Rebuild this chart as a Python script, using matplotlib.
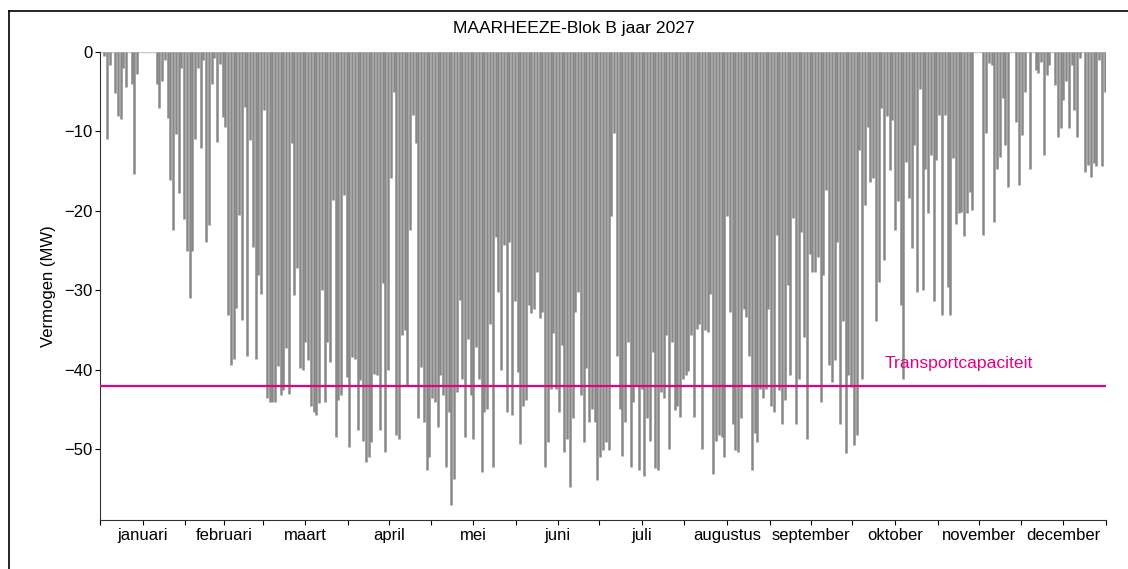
"""Dagelijkse piek van het teruggeleverde vermogen, MAARHEEZE-Blok B 2027."""

import numpy as np
import matplotlib
matplotlib.use("Agg")
from matplotlib import pyplot as plt
from matplotlib.lines import Line2D

plt.rcParams['font.family'] = ['Liberation Sans', 'DejaVu Sans']

# --- Data: laagste waarde per dag (MW) ---
jan = [0, -0.5, -11.0, -1.6, 0, -5.2, -8.1, -8.4, -2.0, -4.4, 0, -4.0, -15.4, -2.8,
       0, 0, 0, 0, 0, 0, -4.0, -7.0, -3.7, -1.0, -8.3, -16.1, -22.4, -10.3, -17.7,
       -2.0, -21.0]
feb = [-25.0, -31.0, -25.0, -10.9, -2.0, -12.1, -1.0, -23.9, -21.8, -4.0, -0.8,
       -11.3, -1.5, -8.2, -9.4, -33.1, -39.4, -38.6, -32.2, -20.5, -33.7, -6.9,
       -38.2, -11.1, -24.5, -38.6, -28.1, -30.4]
mar = [-7.3, -43.5, -44.0, -44.0, -44.0, -39.5, -43.2, -42.5, -37.3, -43.1, -11.5,
       -30.6, -27.2, -39.8, -40.0, -36.5, -38.8, -44.5, -45.3, -45.7, -44.2, -30.0,
       -44.0, -36.5, -39.0, -18.6, -48.4, -43.8, -43.2, -18.0, -40.9]
apr = [-49.7, -38.4, -38.6, -47.6, -41.3, -48.9, -51.6, -51.0, -49.1, -40.5, -40.7,
       -47.6, -29.1, -50.3, -40.0, -15.9, -5.0, -48.2, -48.7, -35.6, -35.0, -41.9,
       -22.4, -7.9, -11.5, -46.1, -39.6, -46.6, -52.6, -51.0]
may = [-43.6, -44.0, -47.2, -40.7, -43.2, -52.2, -45.3, -57.0, -53.7, -42.8, -31.2,
       -41.1, -48.4, -36.1, -43.2, -48.7, -37.1, -41.1, -52.9, -45.3, -44.9, -34.2,
       -52.2, -23.3, -30.2, -40.0, -24.3, -45.3, -23.9, -45.7, -31.4]
jun = [-40.3, -49.3, -44.5, -43.8, -31.9, -32.9, -32.3, -27.7, -33.5, -32.7, -52.2,
       -49.1, -42.4, -35.4, -42.4, -45.3, -36.9, -50.3, -48.7, -54.7, -46.1, -32.7,
       -30.2, -43.2, -49.1, -39.8, -46.6, -44.9, -46.6, -53.9]
jul = [-51.0, -50.1, -49.1, -50.1, -20.7, -10.2, -38.2, -44.9, -50.8, -46.6, -36.5,
       -52.2, -44.0, -41.9, -52.6, -42.4, -53.3, -46.1, -48.9, -37.7, -52.4, -52.6,
       -42.8, -43.6, -35.6, -50.0, -36.5, -45.1, -44.5, -45.9, -41.1]
aug = [-40.7, -40.1, -35.6, -45.9, -34.8, -34.2, -50.0, -35.0, -35.2, -30.4, -53.1,
       -48.9, -48.2, -48.4, -51.0, -20.7, -32.7, -46.8, -50.1, -50.3, -46.1, -32.3,
       -33.3, -38.2, -52.6, -48.0, -49.1, -42.4, -43.6, -42.4, -32.3]
sep = [-44.5, -45.3, -23.0, -42.6, -46.8, -43.8, -29.3, -40.7, -20.9, -46.8, -41.1,
       -22.6, -35.9, -48.7, -25.4, -27.7, -27.7, -25.8, -44.0, -28.1, -17.4, -39.4,
       -41.5, -38.8, -23.9, -46.8, -33.8, -50.5, -40.7, -42.1]
okt = [-49.5, -48.2, -12.3, -41.1, -19.3, -9.4, -16.3, -15.9, -33.8, -28.9, -7.1,
       -26.2, -8.1, -14.9, -8.6, -22.4, -18.8, -31.9, -41.1, -13.8, -18.4, -24.7,
       -11.7, -30.2, -4.6, -30.0, -14.7, -20.3, -13.0, -31.4, -13.6]
nov = [-7.9, -33.1, -7.9, -29.6, -33.1, -13.4, -21.6, -20.3, -20.1, -23.1, -20.3,
       -17.6, -19.9, 0, 0, 0, -23.0, -10.2, -1.4, -1.6, -21.4, -14.7, -13.2, -5.8,
       -11.7, -17.0, 0, 0, -8.8, -16.8]
dec = [-10.5, -5.0, 0, -14.7, 0, -2.3, -2.7, -1.2, -13.0, -2.9, -1.6, 0, -4.2, -10.7,
       -9.6, -6.0, -3.7, -9.6, -1.6, -7.3, -10.7, -0.8, 0, -15.1, -14.2, -15.7, -14.0,
       -14.4, -1.0, -14.4, -5.0]

MONTHS = ["januari", "februari", "maart", "april", "mei", "juni", "juli",
          "augustus", "september", "oktober", "november", "december"]
TRANSPORT_CAP = -42.0
TITLE = "MAARHEEZE-Blok B jaar 2027"

# --- Plot ---
series = [jan, feb, mar, apr, may, jun, jul, aug, sep, okt, nov, dec]
daily_min = np.concatenate([np.asarray(m, float) for m in series])
days = np.arange(len(daily_min)) + 0.5
month_len = np.array([len(m) for m in series])
month_start = np.concatenate([[0], np.cumsum(month_len)])

fig = plt.figure(figsize=(11.28, 5.69), dpi=100)
ax = fig.add_axes([100 / 1128, 1 - 520 / 569, 1006 / 1128, 468 / 569])

ax.hlines(0, 0, month_start[-1], color="#c8c8c8", linewidth=1.0, zorder=1)
ax.vlines(days, 0, daily_min, color="#888888", linewidth=1.8, zorder=2)

ax.axhline(TRANSPORT_CAP, color="#e6007e", linewidth=1.6, zorder=3)
ax.text(284.5, TRANSPORT_CAP + 1.8, "Transportcapaciteit", color="#e6007e",
        fontsize=12.6, ha="left", va="bottom")

ax.set_xlim(0, month_start[-1])
ax.set_ylim(-58.9, 0)
ax.set_yticks([0, -10, -20, -30, -40, -50])
ax.set_xticks(month_start)
ax.set_xticklabels([])
ax.set_xticks(month_start[:-1] + month_len / 2, minor=True)
ax.set_xticklabels(MONTHS, minor=True)
ax.tick_params(axis="x", which="both", length=3.5, width=0.8, labelsize=12, pad=2)
ax.tick_params(axis="y", length=3.5, width=0.8, labelsize=12, pad=2)
ax.set_ylabel("Vermogen (MW)", fontsize=12, labelpad=6)

for side in ("top", "right"):
    ax.spines[side].set_visible(False)
for side in ("left", "bottom"):
    ax.spines[side].set_linewidth(0.8)
    ax.spines[side].set_color("#333333")

fig.text(574 / 1128, 1 - 28 / 569, TITLE, fontsize=12.6, ha="center", va="center")

# figuurkader (rechter- en onderkant vallen buiten beeld)
x0, y0 = 8.5 / 1128, 1 - 10.5 / 569
fig.add_artist(Line2D([x0, 1.0], [y0, y0], transform=fig.transFigure,
                      color="black", linewidth=1.2))
fig.add_artist(Line2D([x0, x0], [0.0, y0], transform=fig.transFigure,
                      color="black", linewidth=1.2))

fig.savefig("out.png", dpi=100)
